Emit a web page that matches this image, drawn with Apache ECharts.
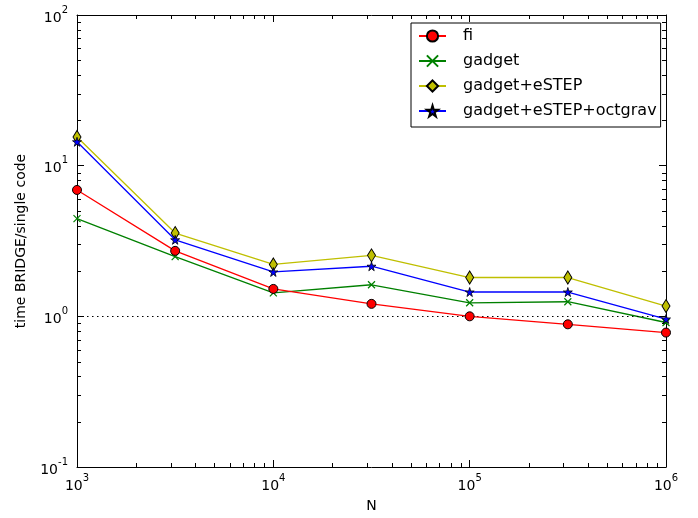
<!DOCTYPE html>
<html>
<head>
<meta charset="utf-8">
<script src="https://cdn.jsdelivr.net/npm/echarts@6/dist/echarts.min.js"></script>
<style>
  html, body { margin: 0; padding: 0; background: #fff; }
  #chart { width: 698px; height: 518px; }
</style>
</head>
<body>
<div id="chart"></div>
<script>
// particle numbers (x axis)
const N = [1000, 3162, 10000, 31623, 100000, 316228, 1000000];
// time ratio BRIDGE / single code
const fi = [6.9, 2.72, 1.52, 1.21, 1.0, 0.885, 0.78];
const gadget = [4.45, 2.49, 1.43, 1.62, 1.23, 1.25, 0.91];
const gadgetEstep = [15.5, 3.57, 2.21, 2.54, 1.81, 1.81, 1.17];
const gadgetEstepOct = [14.4, 3.22, 1.97, 2.15, 1.45, 1.45, 0.96];
const xTicks = [1e3, 1e4, 1e5, 1e6];
const yTicks = [0.1, 1, 10, 100];

const FONT = 'DejaVu Sans';
const STAR = 'path://M50,0 L61,35 L98,35 L68,57 L79,91 L50,70 L21,91 L32,57 L2,35 L39,35 Z';
const CROSS = 'path://M0,0 L10,10 M0,10 L10,0';

function pairs(ys) {
  return N.map((n, i) => [n, ys[i]]);
}

// label like 10^3 with a raised exponent
function powLabel(v) {
  const e = Math.round(Math.log10(v));
  return '{b|10}{s|' + e + '}';
}
const labelRich = {
  b: { fontFamily: FONT, fontSize: 14, color: '#000', lineHeight: 20, verticalAlign: 'bottom' },
  s: { fontFamily: FONT, fontSize: 10, color: '#000', lineHeight: 12, verticalAlign: 'top' }
};

const chart = echarts.init(document.getElementById('chart'));

const axisLine = { show: true, onZero: false, lineStyle: { color: '#000', width: 1 } };
const majorTick = { show: true, inside: true, length: 7, lineStyle: { color: '#000', width: 1 } };

const option = {
  animation: false,
  backgroundColor: '#fff',
  grid: { left: 77, right: 32, top: 15, bottom: 48 },
  legend: {
    left: 411,
    top: 23,
    orient: 'vertical',
    itemWidth: 27,
    itemHeight: 14,
    itemGap: 9,
    padding: [5, 4, 8, 7],
    borderColor: '#000',
    borderWidth: 1,
    borderRadius: 0,
    backgroundColor: '#fff',
    textStyle: { fontFamily: FONT, fontSize: 16, color: '#000', padding: [0, 0, 0, 12] },
    data: ['fi', 'gadget', 'gadget+eSTEP', 'gadget+eSTEP+octgrav']
  },
  xAxis: [
    {
      type: 'log', logBase: 10, min: 1e3, max: 1e6,
      name: 'N', nameLocation: 'middle', nameGap: 32,
      nameTextStyle: { fontFamily: FONT, fontSize: 14, color: '#000' },
      axisLine, axisTick: majorTick, splitLine: { show: false },
      axisLabel: {
        margin: 6,
        formatter: (v) => xTicks.some(t => Math.abs(t - v) / t < 1e-6) ? powLabel(v) : '',
        rich: labelRich
      }
    },
    {
      type: 'log', logBase: 10, min: 1e3, max: 1e6, position: 'top',
      axisLine, axisTick: majorTick, splitLine: { show: false }, axisLabel: { show: false }
    }
  ],
  yAxis: [
    {
      type: 'log', logBase: 10, min: 0.1, max: 100,
      name: 'time BRIDGE/single code', nameLocation: 'middle', nameGap: 49,
      nameTextStyle: { fontFamily: FONT, fontSize: 14, color: '#000' },
      axisLine, axisTick: majorTick, splitLine: { show: false },
      axisLabel: {
        margin: 9,
        formatter: (v) => yTicks.some(t => Math.abs(t - v) / t < 1e-6) ? powLabel(v) : '',
        rich: labelRich
      }
    },
    {
      type: 'log', logBase: 10, min: 0.1, max: 100, position: 'right',
      axisLine, axisTick: majorTick, splitLine: { show: false }, axisLabel: { show: false }
    }
  ],
  series: [
    {
      name: 'fi', type: 'line', data: pairs(fi),
      symbol: 'circle', symbolSize: 9, showAllSymbol: true,
      lineStyle: { color: '#ff0000', width: 1.3 },
      itemStyle: { color: '#ff0000', borderColor: '#000', borderWidth: 1 },
      markLine: {
        silent: true, symbol: 'none', label: { show: false },
        lineStyle: { color: '#000', type: [1.5, 3.5], width: 1 },
        data: [{ yAxis: 1 }]
      },
      z: 5
    },
    {
      name: 'gadget', type: 'line', data: pairs(gadget),
      symbol: CROSS, symbolSize: 7, showAllSymbol: true,
      lineStyle: { color: '#008000', width: 1.3 },
      itemStyle: { color: 'rgba(0,0,0,0)', borderColor: '#008000', borderWidth: 1.2 },
      z: 4
    },
    {
      name: 'gadget+eSTEP', type: 'line', data: pairs(gadgetEstep),
      symbol: 'diamond', symbolSize: [8, 13], showAllSymbol: true,
      lineStyle: { color: '#bfbf00', width: 1.3 },
      itemStyle: { color: '#bfbf00', borderColor: '#000', borderWidth: 1 },
      z: 3
    },
    {
      name: 'gadget+eSTEP+octgrav', type: 'line', data: pairs(gadgetEstepOct),
      symbol: STAR, symbolSize: 9, showAllSymbol: true,
      lineStyle: { color: '#0000ff', width: 1.3 },
      itemStyle: { color: '#0000ff', borderColor: '#000', borderWidth: 0.8 },
      z: 6
    }
  ]
};
chart.setOption(option);

// minor log ticks (2..9 per decade) on all four sides
function addMinorTicks() {
  const len = 4;
  const px = (v) => chart.convertToPixel({ xAxisIndex: 0 }, v);
  const py = (v) => chart.convertToPixel({ yAxisIndex: 0 }, v);
  const x0 = px(1e3), x1 = px(1e6), yb = py(0.1), yt = py(100);
  const els = [];
  const style = { stroke: '#000', lineWidth: 1 };
  for (let e = 3; e < 6; e++) {
    for (let k = 2; k <= 9; k++) {
      const x = Math.round(px(k * Math.pow(10, e))) + 0.5;
      els.push({ type: 'line', shape: { x1: x, y1: yb, x2: x, y2: yb - len }, style, silent: true });
      els.push({ type: 'line', shape: { x1: x, y1: yt, x2: x, y2: yt + len }, style, silent: true });
    }
  }
  for (let e = -1; e < 2; e++) {
    for (let k = 2; k <= 9; k++) {
      const y = Math.round(py(k * Math.pow(10, e))) + 0.5;
      els.push({ type: 'line', shape: { x1: x0, y1: y, x2: x0 + len, y2: y }, style, silent: true });
      els.push({ type: 'line', shape: { x1: x1, y1: y, x2: x1 - len, y2: y }, style, silent: true });
    }
  }
  chart.setOption({ graphic: els });
}
addMinorTicks();
</script>
</body>
</html>
